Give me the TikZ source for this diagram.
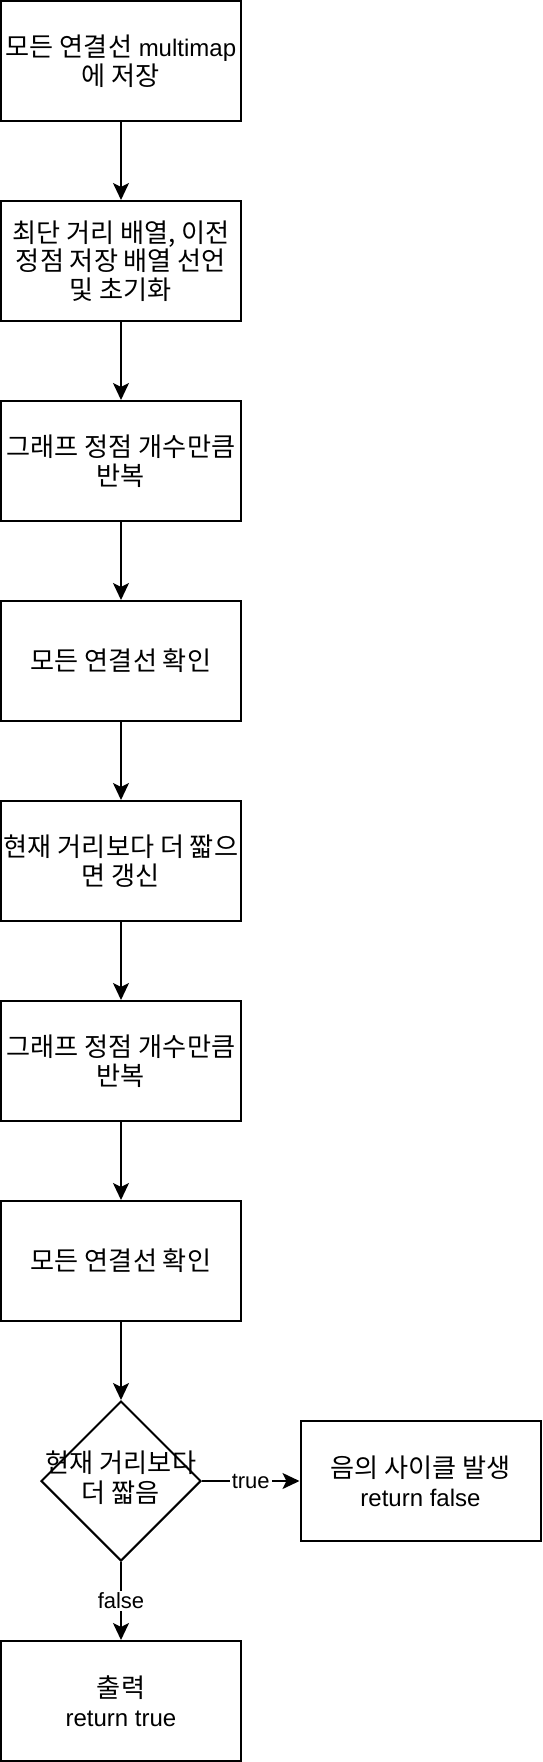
\documentclass[tikz,border=0pt]{standalone}
\usepackage{fontspec}
\setmainfont{Liberation Sans}
\newfontfamily\kr[Scale=1.09]{Noto Sans CJK KR}
\usetikzlibrary{shapes.geometric,arrows.meta}

\begin{document}
\begin{tikzpicture}[x=0.5pt, y=-0.5pt,
  box/.style={rectangle, draw=black, line width=1pt, minimum width=120pt, minimum height=60pt, align=center, inner sep=1pt, font=\fontsize{12}{14.4}\selectfont},
  cond/.style={diamond, draw=black, line width=1pt, minimum width=80pt, minimum height=80pt, inner sep=0pt, font=\fontsize{12}{14.4}\selectfont},
  arrow/.style={-{Stealth[length=8.5pt, width=8pt, inset=2pt]}, line width=1pt},
  lbl/.style={fill=white, inner sep=1pt, font=\fontsize{11}{13}\selectfont},
]
  \useasboundingbox (0,0) rectangle (542,1762);
  \node[box] (store) at (121,61) {{\kr 모든 연결선} multimap\\{\kr 에 저장}};
  \node[box] (init) at (121,261) {\kr 최단 거리 배열, 이전\\\kr 정점 저장 배열 선언\\\kr 및 초기화};
  \node[box] (loopa) at (121,461) {\kr 그래프 정점 개수만큼\\\kr 반복};
  \node[box] (scana) at (121,661) {\kr 모든 연결선 확인};
  \node[box] (relax) at (121,861) {\kr 현재 거리보다 더 짧으\\\kr 면 갱신};
  \node[box] (loopb) at (121,1061) {\kr 그래프 정점 개수만큼\\\kr 반복};
  \node[box] (scanb) at (121,1261) {\kr 모든 연결선 확인};
  \node[cond] (chk) at (121,1481) {\makebox[0pt]{\begin{tabular}{@{}c@{}}\kr 현재 거리보다\\\kr 더 짧음\end{tabular}}};
  \node[box] (neg) at (420.5,1481) {{\kr 음의 사이클 발생}\\return false};
  \node[box] (out) at (121,1701) {{\kr 출력}\\return true};

  \draw[arrow] (store) -- (init);
  \draw[arrow] (init) -- (loopa);
  \draw[arrow] (loopa) -- (scana);
  \draw[arrow] (scana) -- (relax);
  \draw[arrow] (relax) -- (loopb);
  \draw[arrow] (loopb) -- (scanb);
  \draw[arrow] (scanb) -- (chk);
  \draw[arrow] (chk) -- node[lbl] {true} (neg);
  \draw[arrow] (chk) -- node[lbl] {false} (out);
\end{tikzpicture}
\end{document}
